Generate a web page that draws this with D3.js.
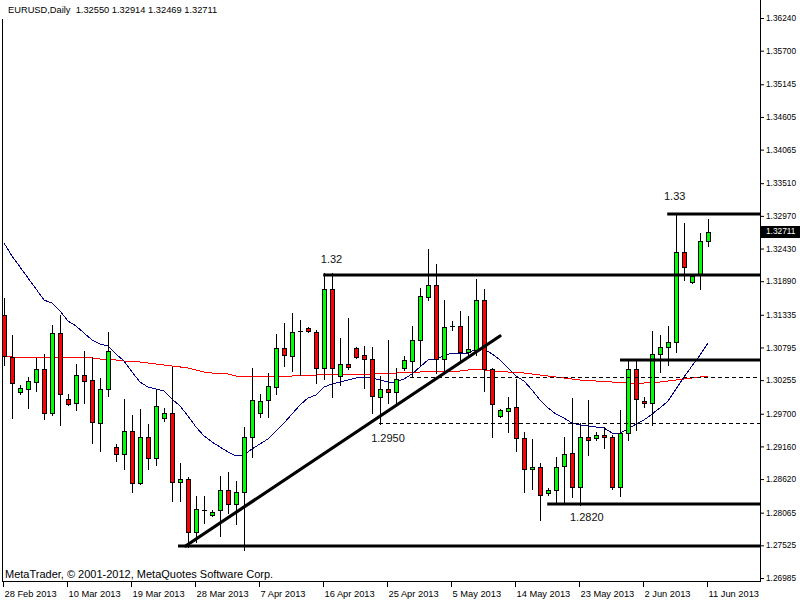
<!DOCTYPE html>
<html><head><meta charset="utf-8">
<script src="https://cdn.jsdelivr.net/npm/d3@7"></script>
<style>
body{margin:0;background:#fff;}
svg{display:block;font-family:"Liberation Sans",Arial,sans-serif;}
</style>
</head><body>
<svg id="c" width="800" height="600"></svg>
<script>
// ---------- data ----------
const symbol = "EURUSD,Daily";
const copyright = "MetaTrader, \u00A9 2001-2012, MetaQuotes Software Corp.";
const dateLabels = ["28 Feb 2013","10 Mar 2013","19 Mar 2013","28 Mar 2013","7 Apr 2013","16 Apr 2013",
                    "25 Apr 2013","5 May 2013","14 May 2013","23 May 2013","2 Jun 2013","11 Jun 2013"];
const labelEvery = 8;

const open = [
1.31331,1.30637,1.30059,1.30108,1.30224,1.30440,1.29711,1.31034,1.29943,1.29877,
1.30340,1.30257,1.29546,1.30108,1.29150,1.29034,1.29414,1.28555,1.29315,1.28968,
1.29629,1.29711,1.28572,1.28622,1.27745,1.28117,1.28026,1.28109,1.28439,1.28208,
1.28406,1.29315,1.29711,1.29927,1.30141,1.30786,1.30654,1.31067,1.31117,1.31051,
1.30456,1.31762,1.30324,1.30522,1.30786,1.30670,1.30604,1.29976,1.30108,1.30059,
1.30456,1.30571,1.30918,1.31629,1.31827,1.30604,1.31150,1.31150,1.30720,1.30753,
1.31579,1.30440,1.29662,1.29744,1.29811,1.29299,1.28786,1.28820,1.28389,1.28439,
1.28836,1.29050,1.28489,1.29315,1.29299,1.29348,1.29315,1.28489,1.29381,1.30440,
1.29910,1.29877,1.30687,1.30803,1.30885,1.32373,1.31877,1.32009,1.32550];
const high = [
1.31613,1.31001,1.30174,1.30307,1.30621,1.30687,1.31166,1.31331,1.30026,1.30522,
1.30736,1.30637,1.30291,1.31051,1.29200,1.29943,1.29678,1.29778,1.29530,1.30108,
1.29795,1.30473,1.28885,1.28654,1.28340,1.28340,1.28109,1.28671,1.28737,1.28588,
1.29480,1.30456,1.30026,1.30373,1.31018,1.31199,1.31364,1.31249,1.31133,1.31084,
1.32025,1.32025,1.30952,1.31282,1.30803,1.30819,1.30803,1.30324,1.30918,1.30456,
1.30654,1.31150,1.31778,1.32423,1.32175,1.31579,1.31232,1.31397,1.31315,1.31927,
1.31762,1.30456,1.29778,1.29976,1.30274,1.29398,1.29283,1.28885,1.28472,1.28984,
1.29315,1.29960,1.29546,1.29927,1.29398,1.29480,1.29348,1.29761,1.30605,1.30588,
1.29976,1.31067,1.31001,1.31150,1.33000,1.32852,1.31992,1.32686,1.32914];
const low = [
1.30505,1.29629,1.30026,1.29795,1.30075,1.29612,1.29678,1.29513,1.29844,1.29761,
1.29877,1.29216,1.29083,1.29993,1.28918,1.28786,1.28406,1.28539,1.28786,1.28852,
1.29579,1.28257,1.28257,1.27497,1.27580,1.27894,1.28010,1.27679,1.28059,1.27878,
1.27448,1.28984,1.29645,1.29645,1.30026,1.30489,1.30406,1.30340,1.31051,1.30207,
1.30274,1.29976,1.30174,1.30440,1.30621,1.30125,1.29711,1.29530,1.29877,1.29877,
1.30423,1.30307,1.30505,1.31579,1.30373,1.30373,1.31084,1.30588,1.30637,1.30670,
1.30075,1.29315,1.29645,1.29398,1.29083,1.28406,1.28456,1.27944,1.28356,1.28208,
1.28208,1.28323,1.28191,1.29017,1.29266,1.29134,1.28456,1.28340,1.29266,1.29431,
1.29811,1.29513,1.30390,1.30505,1.30720,1.31910,1.31860,1.31762,1.32469];
const close = [
1.30654,1.30207,1.30125,1.30240,1.30440,1.29711,1.31034,1.30026,1.29861,1.30340,
1.30240,1.29563,1.30108,1.30736,1.29034,1.29414,1.28555,1.29315,1.28968,1.29828,
1.29711,1.28572,1.28622,1.27745,1.28125,1.28117,1.28076,1.28439,1.28208,1.28406,
1.29315,1.29927,1.29910,1.30158,1.30786,1.30670,1.31051,1.31067,1.31067,1.30456,
1.31762,1.30456,1.30522,1.30473,1.30637,1.30604,1.29993,1.30108,1.30059,1.30274,
1.30588,1.30918,1.31646,1.31827,1.30604,1.31133,1.31150,1.30720,1.30770,1.31579,
1.30440,1.29861,1.29761,1.29795,1.29299,1.28786,1.28820,1.28356,1.28439,1.28820,
1.29034,1.28489,1.29315,1.29266,1.29348,1.29315,1.28489,1.29381,1.30440,1.29943,
1.29877,1.30687,1.30803,1.30885,1.32373,1.32125,1.31976,1.32554,1.32711];

// moving averages
const maFast = [
1.32521,1.32307,1.32125,1.31943,1.31762,1.31579,1.31529,1.31397,1.31232,1.31150,
1.31034,1.30918,1.30852,1.30819,1.30687,1.30571,1.30390,1.30224,1.30141,1.30108,
1.30075,1.29943,1.29828,1.29662,1.29480,1.29332,1.29233,1.29150,1.29067,1.29001,
1.29017,1.29117,1.29200,1.29283,1.29414,1.29546,1.29695,1.29844,1.29960,1.30009,
1.30141,1.30191,1.30224,1.30257,1.30290,1.30307,1.30290,1.30257,1.30224,1.30224,
1.30274,1.30357,1.30473,1.30588,1.30604,1.30654,1.30703,1.30703,1.30703,1.30770,
1.30770,1.30687,1.30588,1.30456,1.30324,1.30240,1.30092,1.29927,1.29795,1.29695,
1.29629,1.29546,1.29513,1.29497,1.29480,1.29464,1.29381,1.29381,1.29447,1.29530,
1.29596,1.29695,1.29795,1.29910,1.30108,1.30307,1.30489,1.30670,1.30869];
const maSlow = [
1.30654,1.30637,1.30637,1.30637,1.30637,1.30637,1.30637,1.30621,1.30621,1.30621,
1.30621,1.30621,1.30604,1.30588,1.30588,1.30571,1.30555,1.30555,1.30538,1.30522,
1.30505,1.30489,1.30473,1.30456,1.30423,1.30390,1.30373,1.30357,1.30357,1.30324,
1.30307,1.30307,1.30307,1.30307,1.30307,1.30307,1.30324,1.30324,1.30324,1.30340,
1.30340,1.30340,1.30340,1.30340,1.30340,1.30340,1.30357,1.30357,1.30357,1.30373,
1.30373,1.30373,1.30390,1.30390,1.30406,1.30406,1.30406,1.30406,1.30423,1.30423,
1.30423,1.30406,1.30406,1.30390,1.30373,1.30373,1.30357,1.30340,1.30324,1.30307,
1.30290,1.30274,1.30257,1.30257,1.30240,1.30240,1.30224,1.30224,1.30207,1.30207,
1.30207,1.30224,1.30224,1.30240,1.30257,1.30274,1.30290,1.30307,1.30307];

const priceTicks = [1.36240,1.35700,1.35145,1.34605,1.34065,1.33510,1.32970,1.32430,1.31890,
                    1.31335,1.30795,1.30255,1.29700,1.29160,1.28620,1.28065,1.27525,1.26985];

// drawn objects: horizontal levels (price, starting bar), trend line, text labels
const levelPrices = [1.33000, 1.32000, 1.30590, 1.28200, 1.27510];
const levelStart  = [82.9, 39.9, 77.0, 67.9, 21.75];
const dashedPrices = [1.30310, 1.29540];
const dashedStart  = [50.75, 46.9];
const trendBars   = [22.7, 62.0];
const trendPrices = [1.27514, 1.30984];
const noteTexts  = ["1.33", "1.32", "1.2950", "1.2820"];
const noteBars   = [82.5, 39.6, 45.9, 70.75];
const notePrices = [1.33232, 1.32191, 1.29233, 1.27927];

// ---------- chart ----------
const svg = d3.select("#c");
const n = close.length;
const x = d3.scaleLinear().domain([0, n - 1]).range([4, 708]);
const y = d3.scaleLinear().domain([1.26985, 1.36240]).range([578, 18]);
const right = 760, bottom = 582;
const fmt = d3.format(".5f");

// frame
svg.append("line").attr("x1", 2.5).attr("x2", 2.5).attr("y1", 19).attr("y2", bottom)
  .attr("stroke", "#000");
svg.append("line").attr("x1", 2).attr("x2", right).attr("y1", bottom - 0.5).attr("y2", bottom - 0.5)
  .attr("stroke", "#000");
svg.append("line").attr("x1", right + 0.5).attr("x2", right + 0.5).attr("y1", 0).attr("y2", bottom)
  .attr("stroke", "#000");

// moving averages
const lineGen = d3.line().x((d, i) => x(i)).y(d => y(d));
svg.append("path").datum(maSlow).attr("d", lineGen).attr("fill", "none")
  .attr("stroke", "#ff0000").attr("stroke-width", 1).attr("shape-rendering", "crispEdges");
svg.append("path").datum(maFast).attr("d", lineGen).attr("fill", "none")
  .attr("stroke", "#000080").attr("stroke-width", 1).attr("shape-rendering", "crispEdges");

// candles
const bars = d3.range(n);
const g = svg.append("g").attr("shape-rendering", "crispEdges");
g.selectAll("line.wick").data(bars).join("line").attr("class", "wick")
  .attr("x1", i => Math.round(x(i)) + 0.5).attr("x2", i => Math.round(x(i)) + 0.5)
  .attr("y1", i => Math.round(y(high[i]))).attr("y2", i => Math.round(y(low[i])) + 1)
  .attr("stroke", "#000");
bars.forEach(i => {
  const cx = Math.round(x(i));
  const top = Math.round(y(Math.max(open[i], close[i])));
  const bot = Math.round(y(Math.min(open[i], close[i])));
  if (bot - top < 1) {
    g.append("line").attr("x1", cx - 2).attr("x2", cx + 3)
      .attr("y1", top + 0.5).attr("y2", top + 0.5).attr("stroke", "#000");
  } else {
    g.append("rect").attr("x", cx - 1.5).attr("y", top + 0.5)
      .attr("width", 4).attr("height", bot - top)
      .attr("fill", close[i] > open[i] ? "#00ff00" : "#ff0000")
      .attr("stroke", "#000");
  }
});

// horizontal levels
levelPrices.forEach((p, k) => {
  svg.append("line").attr("x1", x(levelStart[k])).attr("x2", right)
    .attr("y1", Math.round(y(p))).attr("y2", Math.round(y(p)))
    .attr("stroke", "#000").attr("stroke-width", 3);
});
dashedPrices.forEach((p, k) => {
  svg.append("line").attr("x1", x(dashedStart[k])).attr("x2", right)
    .attr("y1", Math.round(y(p)) + 0.5).attr("y2", Math.round(y(p)) + 0.5)
    .attr("stroke", "#000").attr("stroke-width", 1).attr("stroke-dasharray", "4,3")
    .attr("shape-rendering", "crispEdges");
});
// trend line
svg.append("line")
  .attr("x1", x(trendBars[0])).attr("y1", y(trendPrices[0]))
  .attr("x2", x(trendBars[1])).attr("y2", y(trendPrices[1]))
  .attr("stroke", "#000").attr("stroke-width", 3.2).attr("stroke-linecap", "round");

// text notes
noteTexts.forEach((t, k) => {
  svg.append("text").attr("x", x(noteBars[k])).attr("y", y(notePrices[k]))
    .attr("font-size", 11).attr("fill", "#111").text(t);
});

// price axis
const yAxis = d3.axisRight(y).tickValues(priceTicks).tickFormat(fmt).tickSize(4).tickPadding(2);
const ya = svg.append("g").attr("transform", `translate(${right},0)`).call(yAxis);
ya.select(".domain").remove();
ya.selectAll("text").attr("font-size", 8.3).attr("font-family", "Liberation Sans, Arial, sans-serif").attr("fill", "#000");
ya.selectAll("line").attr("stroke", "#000");

// current price box
const last = close[n - 1];
svg.append("rect").attr("x", right + 1).attr("y", Math.round(y(last)) - 6)
  .attr("width", 800 - right - 1).attr("height", 12).attr("fill", "#000");
svg.append("text").attr("x", right + 6).attr("y", y(last)).attr("dy", "0.34em")
  .attr("font-size", 8.3).attr("fill", "#fff").text(fmt(last));

// date axis
const dateIdx = dateLabels.map((d, k) => k * labelEvery);
const xAxis = d3.axisBottom(x).tickValues(dateIdx)
  .tickFormat(i => dateLabels[i / labelEvery]).tickSize(5).tickPadding(3);
const xa = svg.append("g").attr("transform", `translate(-1,${bottom})`).call(xAxis);
xa.select(".domain").remove();
xa.selectAll("line").attr("stroke", "#000");
xa.selectAll("text").attr("text-anchor", "start").attr("x", 1)
  .attr("font-size", 9.3).attr("font-family", "Liberation Sans, Arial, sans-serif").attr("fill", "#000");

// title and copyright
svg.append("text").attr("x", 8).attr("y", 13).attr("font-size", 9.3).attr("fill", "#000")
  .attr("xml:space", "preserve")
  .text(`${symbol}  ${fmt(open[n-1])} ${fmt(high[n-1])} ${fmt(low[n-1])} ${fmt(close[n-1])}`);
svg.append("text").attr("x", 5).attr("y", 578).attr("font-size", 11).attr("fill", "#000")
  .text(copyright);
</script>
</body></html>
